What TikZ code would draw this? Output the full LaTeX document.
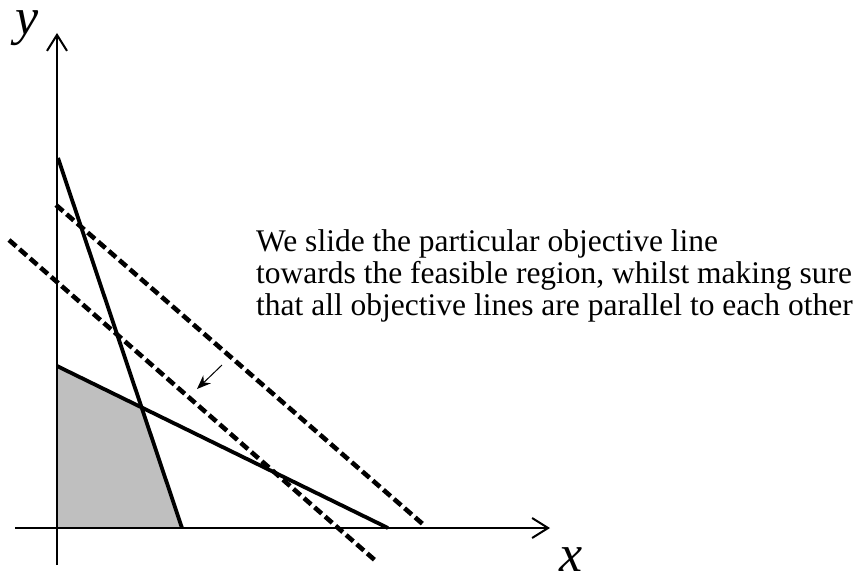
\documentclass[tikz,border=0pt]{standalone}
\usepackage{fontspec}
\setmainfont{Liberation Serif}
\usetikzlibrary{arrows.meta,calc}
\begin{document}
\begin{tikzpicture}[x=1pt,y=-1pt,
  axis/.style={line width=2pt,-{Straight Barb[length=16pt,width=20pt,line width=2pt]}},
  conline/.style={line width=3.8pt},
  objline/.style={line width=4.6pt,dash pattern=on 9.5pt off 4.5pt},
  note/.style={font=\fontsize{31.5}{32}\selectfont,anchor=base west,inner sep=0pt},
  axlabel/.style={font=\fontsize{52}{52}\selectfont\itshape,inner sep=0pt,anchor=base}]
\useasboundingbox (0,0) rectangle (864,575);
% constraint line endpoints
\coordinate (s1) at (58,158);
\coordinate (s2) at (182,528);
\coordinate (h1) at (57,366);
\coordinate (h2) at (388,528);
\coordinate (o) at (57,528);
\coordinate (p) at (intersection of s1--s2 and h1--h2);
% feasible region
\fill[black!25] (o) -- (h1) -- (p) -- (s2) -- cycle;
% axes
\coordinate (xa) at (15,528);
\coordinate (xb) at (550,528);
\coordinate (ya) at (57,565);
\coordinate (yb) at (57,33);
\draw[axis] (xa) -- (xb);
\draw[axis] (ya) -- (yb);
% constraints
\draw[conline] (s1) -- (s2);
\draw[conline] (h1) -- (h2);
% objective lines
\coordinate (d1) at (56,205);
\coordinate (d2) at (425,526);
\coordinate (e1) at (9,240);
\coordinate (e2) at (377,562);
\draw[objline] (d1) -- (d2);
\draw[objline] (e1) -- (e2);
% arrow
\coordinate (a1) at (222,365);
\coordinate (a2) at (197,389);
\draw[line width=1pt,-{Stealth[length=14pt,width=11pt]}] (a1) -- (a2);
% text
\node[note] (t1) at (256,251) {We slide the particular objective line};
\node[note] (t2) at (256,283) {towards the feasible region, whilst making sure};
\node[note] (t3) at (256,315) {that all objective lines are parallel to each other};
\node[axlabel] (ylab) at (27,35) {y};
\node[axlabel] (xlab) at (571,571) {x};
\end{tikzpicture}
\end{document}
